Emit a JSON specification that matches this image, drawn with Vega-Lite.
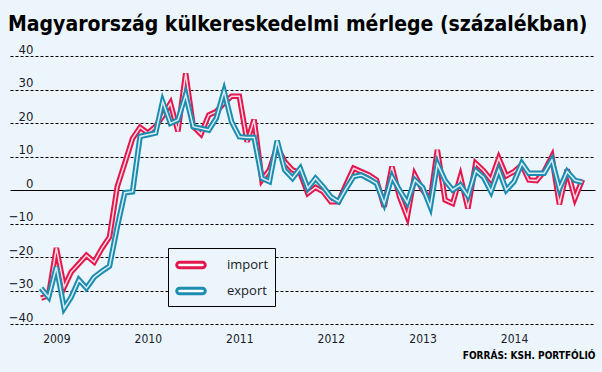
{
  "$schema": "https://vega.github.io/schema/vega-lite/v6.json",
  "width": 585,
  "height": 268,
  "autosize": {"type": "none"},
  "padding": {"left": 10, "top": 56, "right": 7, "bottom": 48},
  "background": "#EBF5FB",
  "config": {"view": {"stroke": null}},
  "title": {
    "text": "Magyarország külkereskedelmi mérlege (százalékban)",
    "anchor": "start",
    "frame": "group",
    "font": "DejaVu Sans Condensed",
    "fontSize": 21,
    "fontWeight": "bold",
    "color": "#000000",
    "baseline": "alphabetic",
    "offset": -9,
    "dx": -2
  },
  "data": {
    "values": [
      {"month": "2008-11-01", "import": -32.3, "export": -29.3},
      {"month": "2008-12-01", "import": -31.5, "export": -32},
      {"month": "2009-01-01", "import": -17.3, "export": -23},
      {"month": "2009-02-01", "import": -29, "export": -35.3},
      {"month": "2009-03-01", "import": -24.5, "export": -32},
      {"month": "2009-04-01", "import": -22, "export": -26.8},
      {"month": "2009-05-01", "import": -19.5, "export": -29.3},
      {"month": "2009-06-01", "import": -21.5, "export": -26},
      {"month": "2009-07-01", "import": -17.5, "export": -24.3},
      {"month": "2009-08-01", "import": -14, "export": -22.7},
      {"month": "2009-09-01", "import": 1, "export": -11},
      {"month": "2009-10-01", "import": 8, "export": -0.8},
      {"month": "2009-11-01", "import": 15.4, "export": -0.5},
      {"month": "2009-12-01", "import": 18.7, "export": 16},
      {"month": "2010-01-01", "import": 17, "export": 16.5},
      {"month": "2010-02-01", "import": 19, "export": 17},
      {"month": "2010-03-01", "import": 22, "export": 26.4},
      {"month": "2010-04-01", "import": 25.9, "export": 19.9},
      {"month": "2010-05-01", "import": 17.5, "export": 20.9},
      {"month": "2010-06-01", "import": 34.8, "export": 28.5},
      {"month": "2010-07-01", "import": 19, "export": 18.9},
      {"month": "2010-08-01", "import": 16.7, "export": 18.4},
      {"month": "2010-09-01", "import": 22.4, "export": 17.9},
      {"month": "2010-10-01", "import": 23.4, "export": 21.4},
      {"month": "2010-11-01", "import": 26, "export": 29.5},
      {"month": "2010-12-01", "import": 28, "export": 20.4},
      {"month": "2011-01-01", "import": 28, "export": 15.9},
      {"month": "2011-02-01", "import": 14.4, "export": 15.7},
      {"month": "2011-03-01", "import": 21, "export": 15.7},
      {"month": "2011-04-01", "import": 3, "export": 3.5},
      {"month": "2011-05-01", "import": 6, "export": 2.5},
      {"month": "2011-06-01", "import": 12.9, "export": 14.7},
      {"month": "2011-07-01", "import": 8.5, "export": 6},
      {"month": "2011-08-01", "import": 6, "export": 3.5},
      {"month": "2011-09-01", "import": 5, "export": 6.5},
      {"month": "2011-10-01", "import": -1, "export": 0.5},
      {"month": "2011-11-01", "import": 0.8, "export": 3.5},
      {"month": "2011-12-01", "import": -0.5, "export": 1},
      {"month": "2012-01-01", "import": -3.5, "export": -2},
      {"month": "2012-02-01", "import": -3.5, "export": -3.5},
      {"month": "2012-03-01", "import": 1.5, "export": 0.3},
      {"month": "2012-04-01", "import": 6.5, "export": 4},
      {"month": "2012-05-01", "import": 5.5, "export": 4.5},
      {"month": "2012-06-01", "import": 4.5, "export": 3.3},
      {"month": "2012-07-01", "import": 3, "export": 2},
      {"month": "2012-08-01", "import": -5, "export": -4},
      {"month": "2012-09-01", "import": 7, "export": 4},
      {"month": "2012-10-01", "import": -2, "export": 0},
      {"month": "2012-11-01", "import": -8, "export": -3.8},
      {"month": "2012-12-01", "import": 4.5, "export": 3},
      {"month": "2013-01-01", "import": 0, "export": 0.8},
      {"month": "2013-02-01", "import": -3, "export": -5},
      {"month": "2013-03-01", "import": 12, "export": 7.8},
      {"month": "2013-04-01", "import": -3, "export": 2.8},
      {"month": "2013-05-01", "import": -4, "export": 0},
      {"month": "2013-06-01", "import": 4, "export": 1.5},
      {"month": "2013-07-01", "import": -5.5, "export": -1.8},
      {"month": "2013-08-01", "import": 8, "export": 5.8},
      {"month": "2013-09-01", "import": 5.8, "export": 3.8},
      {"month": "2013-10-01", "import": 3, "export": -0.5},
      {"month": "2013-11-01", "import": 9.5, "export": 6},
      {"month": "2013-12-01", "import": 4.2, "export": 0},
      {"month": "2014-01-01", "import": 5.5, "export": 2.5},
      {"month": "2014-02-01", "import": 7.5, "export": 8},
      {"month": "2014-03-01", "import": 3, "export": 5},
      {"month": "2014-04-01", "import": 2.8, "export": 5},
      {"month": "2014-05-01", "import": 5.5, "export": 5},
      {"month": "2014-06-01", "import": 10, "export": 9},
      {"month": "2014-07-01", "import": -4.3, "export": 0.3},
      {"month": "2014-08-01", "import": 6.1, "export": 5.5},
      {"month": "2014-09-01", "import": -2.5, "export": 2.9},
      {"month": "2014-10-01", "import": 3.1, "export": 2.3}
    ]
  },
  "encoding": {
    "x": {
      "field": "month",
      "type": "temporal",
      "scale": {
        "type": "utc",
        "domain": [
          {"year": 2008, "month": 6, "date": 30, "utc": true},
          {"year": 2014, "month": 11, "date": 20, "utc": true}
        ]
      },
      "axis": {
        "values": [
          {"year": 2009, "month": 1, "date": 1, "utc": true},
          {"year": 2010, "month": 1, "date": 1, "utc": true},
          {"year": 2011, "month": 1, "date": 1, "utc": true},
          {"year": 2012, "month": 1, "date": 1, "utc": true},
          {"year": 2013, "month": 1, "date": 1, "utc": true},
          {"year": 2014, "month": 1, "date": 1, "utc": true}
        ],
        "format": "%Y",
        "domain": false,
        "ticks": false,
        "tickSize": 0,
        "grid": false,
        "labelFont": "DejaVu Sans Condensed",
        "labelFontSize": 12,
        "labelColor": "#1a1a2a",
        "labelPadding": 9,
        "labelFlush": false,
        "title": "FORRÁS: KSH. PORTFÓLIÓ",
        "titleAnchor": "end",
        "titleFont": "DejaVu Sans Condensed",
        "titleFontSize": 10,
        "titleFontWeight": "bold",
        "titleColor": "#000000",
        "titlePadding": 6
      }
    },
    "y": {
      "type": "quantitative",
      "title": null,
      "scale": {"domain": [-40, 40]},
      "axis": {
        "values": [-40, -30, -20, -10, 0, 10, 20, 30, 40],
        "domain": false,
        "ticks": false,
        "tickSize": 0,
        "grid": true,
        "gridColor": "#000000",
        "gridWidth": 1,
        "gridOpacity": 1,
        "gridDash": {"condition": {"test": "datum.value === 0", "value": []}, "value": [3, 2]},
        "labelAlign": "right",
        "labelBaseline": "alphabetic",
        "labelPadding": -23,
        "labelOffset": -3,
        "labelFont": "DejaVu Sans Condensed",
        "labelFontSize": 13,
        "labelColor": "#1a1a2a"
      }
    }
  },
  "layer": [
    {
      "mark": {"type": "line", "strokeWidth": 5.5},
      "encoding": {
        "y": {"field": "import"},
        "color": {
          "datum": "import",
          "type": "nominal",
          "scale": {"domain": ["import", "export"], "range": ["#E3174E", "#1B8DB0"]},
          "legend": {
            "orient": "none",
            "legendX": 158,
            "legendY": 192,
            "title": null,
            "symbolType": "M -1.2 -0.3 L 1.2 -0.3 A 0.3 0.3 0 0 1 1.2 0.3 L -1.2 0.3 A 0.3 0.3 0 0 1 -1.2 -0.3 Z",
            "symbolSize": 361,
            "symbolFillColor": "#ffffff",
            "symbolStrokeWidth": 3,
            "symbolOffset": 6,
            "labelOffset": 25,
            "labelFont": "Open Sans",
            "labelFontSize": 13,
            "labelColor": "#1a1a2a",
            "labelExpr": "datum.label + '\u2003\u2003'",
            "strokeColor": "#000000",
            "fillColor": "#EBF5FB",
            "padding": 6,
            "rowPadding": 6
          }
        }
      }
    },
    {
      "mark": {"type": "line", "strokeWidth": 1.5, "color": "#ffffff", "opacity": 0.85},
      "encoding": {"y": {"field": "import"}}
    },
    {
      "mark": {"type": "line", "strokeWidth": 5.5},
      "encoding": {
        "y": {"field": "export"},
        "color": {"datum": "export", "type": "nominal"}
      }
    },
    {
      "mark": {"type": "line", "strokeWidth": 1.5, "color": "#ffffff", "opacity": 0.85},
      "encoding": {"y": {"field": "export"}}
    }
  ]
}
